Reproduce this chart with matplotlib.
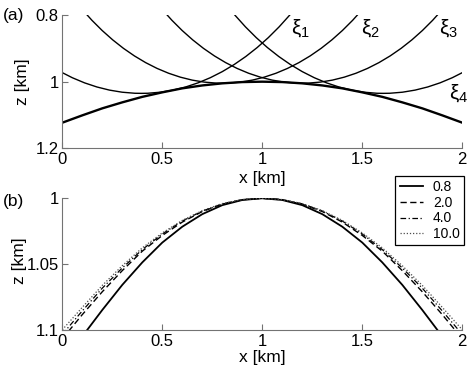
import matplotlib
matplotlib.use("Agg")
import matplotlib.pyplot as plt
from matplotlib.patches import Arc
from matplotlib.lines import Line2D

plt.rcParams['font.family'] = ['Liberation Sans', 'DejaVu Sans']
plt.rcParams['mathtext.fontset'] = 'custom'
plt.rcParams['mathtext.rm'] = 'Liberation Sans'
plt.rcParams['mathtext.it'] = 'Liberation Sans'

# ---- panel (a): wavefront circles and their envelope ----
circle_names = [r'$\xi_1$', r'$\xi_2$', r'$\xi_3$', r'$\xi_4$']
circle_xc = [0.395, 0.80, 1.20, 1.605]
circle_zc = [-0.255, -0.2155, -0.2155, -0.255]
circle_r = [1.29, 1.22, 1.22, 1.29]
label_x = [1.145, 1.495, 1.885, 1.935]
label_z = [0.84, 0.84, 0.84, 1.035]

env_x = [0.0, 0.1, 0.2, 0.3, 0.4, 0.5, 0.6, 0.7, 0.8, 0.9, 1.0,
         1.1, 1.2, 1.3, 1.4, 1.5, 1.6, 1.7, 1.8, 1.9, 2.0]
env_z = [1.123, 1.101, 1.080, 1.062, 1.0455, 1.032, 1.020, 1.0113, 1.005, 1.0012, 1.0,
         1.0012, 1.005, 1.0113, 1.020, 1.032, 1.0455, 1.062, 1.080, 1.101, 1.123]

# ---- panel (b): reflector profiles ----
prof_x = env_x
prof_labels = ['0.8', '2.0', '4.0', '10.0']
prof_z = [
    [1.126, 1.1045, 1.0845, 1.0655, 1.0485, 1.0335, 1.0215, 1.012, 1.0052, 1.0013, 1.0,
     1.0013, 1.0052, 1.012, 1.0215, 1.0335, 1.0485, 1.0655, 1.0845, 1.1045, 1.126],
    [1.1063, 1.088, 1.0707, 1.0547, 1.040, 1.0281, 1.018, 1.010, 1.0045, 1.0011, 1.0,
     1.0011, 1.0045, 1.010, 1.018, 1.0281, 1.040, 1.0547, 1.0707, 1.088, 1.1063],
    [1.103, 1.0852, 1.068, 1.0527, 1.0388, 1.027, 1.0172, 1.0097, 1.0042, 1.001, 1.0,
     1.001, 1.0042, 1.0097, 1.0172, 1.027, 1.0388, 1.0527, 1.068, 1.0852, 1.103],
    [1.0995, 1.0825, 1.0659, 1.051, 1.0375, 1.0262, 1.0167, 1.0093, 1.004, 1.001, 1.0,
     1.001, 1.004, 1.0093, 1.0167, 1.0262, 1.0375, 1.051, 1.0659, 1.0825, 1.0995],
]
prof_styles = [
    dict(ls='-', lw=1.3),
    dict(ls=(0, (4.5, 2.5)), lw=1.0),
    dict(ls=(0, (4.5, 2, 1, 2)), lw=0.9),
    dict(ls=(0, (1, 1.5)), lw=0.9, color='0.3'),
]

axis_col = '0.45'


def style_axes(ax):
    for side in ['top', 'right']:
        ax.spines[side].set_visible(False)
    for side in ['left', 'bottom']:
        ax.spines[side].set_color(axis_col)
        ax.spines[side].set_linewidth(0.8)
    ax.tick_params(direction='in', length=4, width=0.8, color=axis_col,
                   labelsize=12, pad=2.5)


fig = plt.figure(figsize=(4.74, 3.70), dpi=100)

# top panel
ax1 = fig.add_axes([0.1314, 0.599, 0.8439, 0.3605])
for xc, zc, r in zip(circle_xc, circle_zc, circle_r):
    ax1.add_patch(Arc((xc, zc), 2 * r, 2 * r, theta1=0, theta2=180,
                      lw=1.0, color='k'))
ax1.plot(env_x, env_z, color='k', lw=1.7)
for name, lx, lz in zip(circle_names, label_x, label_z):
    ax1.text(lx, lz, name, fontsize=15, ha='left', va='center')
ax1.set_xlim(0, 2)
ax1.set_ylim(1.2, 0.8)
ax1.set_xticks([0, 0.5, 1, 1.5, 2])
ax1.set_xticklabels(['0', '0.5', '1', '1.5', '2'])
ax1.set_yticks([0.8, 1.0, 1.2])
ax1.set_yticklabels(['0.8', '1', '1.2'])
style_axes(ax1)
ax1.set_xlabel('x [km]', fontsize=12.5, va='center')
ax1.xaxis.set_label_coords(0.5, -0.225)
ax1.set_ylabel('z [km]', fontsize=12.5, va='center')
ax1.yaxis.set_label_coords(-0.1, 0.5)

# bottom panel
ax2 = fig.add_axes([0.1314, 0.1068, 0.8439, 0.3573])
handles = []
for z, lab, st in zip(prof_z, prof_labels, prof_styles):
    kw = dict(color='k')
    kw.update(st)
    ax2.plot(prof_x, z, **kw)
    handles.append(Line2D([], [], label=lab, **kw))
ax2.set_xlim(0, 2)
ax2.set_ylim(1.1, 1.0)
ax2.set_xticks([0, 0.5, 1, 1.5, 2])
ax2.set_xticklabels(['0', '0.5', '1', '1.5', '2'])
ax2.set_yticks([1.0, 1.05, 1.1])
ax2.set_yticklabels(['1', '1.05', '1.1'])
style_axes(ax2)
ax2.set_xlabel('x [km]', fontsize=12.5, va='center')
ax2.xaxis.set_label_coords(0.5, -0.208)
ax2.set_ylabel('z [km]', fontsize=12.5, va='center')
ax2.yaxis.set_label_coords(-0.107, 0.53)

leg = ax2.legend(handles=handles, loc='upper right',
                 bbox_to_anchor=(464 / 474, 1 - 176 / 370),
                 bbox_transform=fig.transFigure, borderaxespad=0,
                 fontsize=10, handlelength=1.7, handletextpad=0.7,
                 labelspacing=0.12, borderpad=0.3, fancybox=False,
                 framealpha=1, edgecolor='k')
leg.get_frame().set_linewidth(0.9)
leg.set_zorder(5)

fig.text(0.007, 0.957, '(a)', fontsize=12.5, ha='left', va='center')
fig.text(0.007, 0.455, '(b)', fontsize=12.5, ha='left', va='center')

fig.savefig('out.png', dpi=100)
